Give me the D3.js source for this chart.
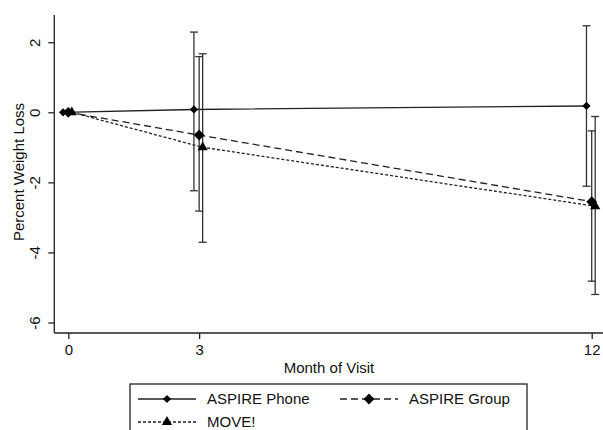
<!DOCTYPE html>
<html><head><meta charset="utf-8">
<script src="https://cdn.jsdelivr.net/npm/d3@7"></script>
<style>body{margin:0;background:#fff}svg{display:block}text{font-family:"Liberation Sans",Arial,sans-serif;fill:#111}</style>
</head><body><svg id="c" width="603" height="430"></svg>
<script>
const months = [0, 3, 12];
const seriesNames = ["ASPIRE Phone", "ASPIRE Group", "MOVE!"];
const phoneMean = [0, 0.08, 0.18];
const phoneLo = [null, -2.24, -2.11];
const phoneHi = [null, 2.29, 2.47];
const groupMean = [0, -0.65, -2.55];
const groupLo = [null, -2.82, -4.82];
const groupHi = [null, 1.59, -0.53];
const moveMean = [0, -1.0, -2.68];
const moveLo = [null, -3.71, -5.2];
const moveHi = [null, 1.67, -0.12];
const xTicks = [0, 3, 12];
const yTicks = [2, 0, -2, -4, -6];

const svg = d3.select("#c");
const x = d3.scaleLinear().domain([0, 12]).range([68.3, 591.7]);
const y = d3.scaleLinear().domain([0, -6]).range([112.3, 322.5]);
const x0 = 54.3, y0 = 333;

const series = [
  {name: seriesNames[0], mean: phoneMean, lo: phoneLo, hi: phoneHi, off: -0.12, dash: null, marker: "diamond", size: 34},
  {name: seriesNames[1], mean: groupMean, lo: groupLo, hi: groupHi, off: 0, dash: "7,4", marker: "diamond", size: 58},
  {name: seriesNames[2], mean: moveMean, lo: moveLo, hi: moveHi, off: 0.08, dash: "3,2", marker: "triangle", size: 45}
];
const markerPath = (m, size) => d3.symbol(m === "diamond" ? d3.symbolSquare : d3.symbolTriangle, size)();
const markerRot = m => m === "diamond" ? " rotate(45)" : "";
const fmt = d => String(d);

// axes
const yAx = svg.append("g").attr("transform", `translate(${x0},0)`)
  .call(d3.axisLeft(y).tickValues(yTicks).tickFormat(fmt).tickSize(6).tickSizeOuter(0));
yAx.select(".domain").attr("d", `M0,15V${y0}`);
yAx.selectAll(".tick text").attr("transform", "rotate(-90)").attr("x", 0).attr("y", -20)
  .attr("dy", "0.35em").attr("text-anchor", "middle").style("font-size", "15px");
const xAx = svg.append("g").attr("transform", `translate(0,${y0})`)
  .call(d3.axisBottom(x).tickValues(xTicks).tickFormat(fmt).tickSize(6).tickPadding(5).tickSizeOuter(0));
xAx.select(".domain").attr("d", `M${x0},0H603`);
xAx.selectAll(".tick text").style("font-size", "15px");
svg.selectAll(".domain, .tick line").attr("stroke", "#222").attr("stroke-width", 1.3);
svg.selectAll(".tick text").style("font-family", "Liberation Sans, Arial, sans-serif").attr("fill", "#111");

svg.append("text").attr("x", 329).attr("y", 373).attr("text-anchor", "middle")
  .style("font-size", "15px").text("Month of Visit");
svg.append("text").attr("transform", `translate(24,172) rotate(-90)`).attr("text-anchor", "middle")
  .style("font-size", "15px").text("Percent Weight Loss");

// lines
const line = d3.line().x(d => x(d[0])).y(d => y(d[1]));
series.forEach(s => {
  const pts = months.map((m, i) => [m + s.off, s.mean[i]]);
  svg.append("path").attr("d", line(pts)).attr("fill", "none").attr("stroke", "#222")
    .attr("stroke-width", 1.3).attr("stroke-dasharray", s.dash);
});
// error bars
series.forEach(s => {
  months.forEach((m, i) => {
    if (s.lo[i] === null) return;
    const xx = x(m + s.off);
    const g = svg.append("g").attr("stroke", "#333").attr("stroke-width", 1.3);
    g.append("line").attr("x1", xx).attr("x2", xx).attr("y1", y(s.lo[i])).attr("y2", y(s.hi[i]));
    [s.lo[i], s.hi[i]].forEach(v => g.append("line").attr("x1", xx - 4).attr("x2", xx + 4).attr("y1", y(v)).attr("y2", y(v)));
  });
});
// markers
series.forEach(s => {
  months.forEach((m, i) => {
    svg.append("path").attr("d", markerPath(s.marker, s.size))
      .attr("transform", `translate(${x(m + s.off)},${y(s.mean[i])})${markerRot(s.marker)}`).attr("fill", "#000");
  });
});

// legend
svg.append("rect").attr("x", 130).attr("y", 384).attr("width", 397).attr("height", 60)
  .attr("fill", "#fff").attr("stroke", "#222").attr("stroke-width", 1.3);
const leg = [
  {s: series[0], lx: 138, ly: 399},
  {s: series[1], lx: 340, ly: 399},
  {s: series[2], lx: 138, ly: 422}
];
leg.forEach(l => {
  svg.append("line").attr("x1", l.lx).attr("x2", l.lx + 58).attr("y1", l.ly).attr("y2", l.ly)
    .attr("stroke", "#222").attr("stroke-width", 1.3).attr("stroke-dasharray", l.s.dash);
  svg.append("path").attr("d", markerPath(l.s.marker, l.s.size))
    .attr("transform", `translate(${l.lx + 29},${l.ly})${markerRot(l.s.marker)}`).attr("fill", "#000");
  svg.append("text").attr("x", l.lx + 69).attr("y", l.ly).attr("dy", "0.36em")
    .style("font-size", "15px").text(l.s.name);
});
</script></body></html>
